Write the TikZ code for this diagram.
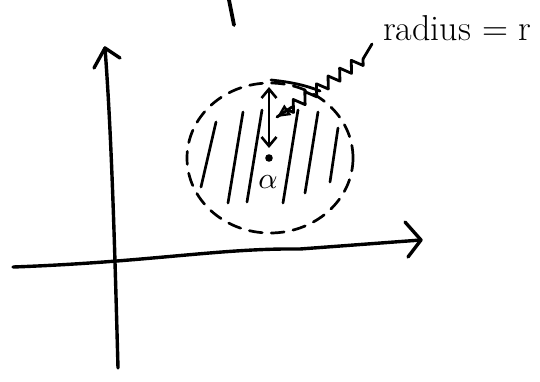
\documentclass[tikz,border=0pt]{standalone}
\usetikzlibrary{arrows.meta,decorations.pathmorphing}
\begin{document}
\begin{tikzpicture}[x=1pt,y=-1pt,line cap=round,line join=round,
  ink/.style={line width=2.8pt,black},
  axis/.style={line width=3.4pt,black},
  hatch/.style={line width=2.7pt,black},
  chev/.style={line width=3.4pt,black},
  dashcirc/.style={line width=2.7pt,dash pattern=on 13pt off 9pt},
  lbl/.style={font=\fontsize{36}{38}\selectfont,inner sep=0pt}]
\useasboundingbox (0,0) rectangle (540,381);
% stray stroke at top
\draw[line width=3.8pt] (229,0) -- (234,25);
% coordinates
\coordinate (vb) at (118,368);
\coordinate (vt) at (105,48);
\coordinate (hl) at (13,267);
\coordinate (hr) at (421,240);
% vertical axis
\draw[axis] (vb) .. controls (115,260) and (112,140) .. (vt);
\draw[chev] (94,68) -- (vt) -- (120,58);
% horizontal axis
\draw[axis] (hl) .. controls (150,262) and (220,248) .. (300,249) -- (hr);
\draw[chev] (405,222) -- (hr) -- (408,257);
% dashed circle
\coordinate (c) at (270,158);
\draw[dashcirc] (c) ellipse [x radius=83, y radius=75];
% solid top piece
\draw[ink] (271,80) .. controls (290,82) and (305,85) .. (320,91);
% hatching
\draw[hatch] (201,187) -- (216,122);
\draw[hatch] (228,203) -- (243,112);
\draw[hatch] (247,202) -- (262,110);
\draw[hatch] (283,203) -- (298,110);
\draw[hatch] (305,193) -- (318,112);
\draw[hatch] (330,182) -- (338,128);
% radius double arrow
\coordinate (rt) at (269,87);
\coordinate (rb) at (269,148);
\draw[ink,{Straight Barb[length=9pt,width=15pt,line width=2.6pt]}-{Straight Barb[length=9pt,width=15pt,line width=2.6pt]}] (rt) -- (rb);
% centre dot and label
\fill (269,158) circle (3.8pt);
\node[inner sep=0pt] (alpha) at (268,182) {\scalebox{3}{$\alpha$}};
% label
\node[lbl,anchor=base west] (rad) at (383,40) {radius = r};
\coordinate (zs) at (372,44);
\coordinate (zm) at (363,59);
\coordinate (ze) at (277,117);
\draw[ink] (zs) -- (zm);
\draw[ink,decorate,decoration={zigzag,segment length=14pt,amplitude=5.5pt,post length=10pt}] (zm) -- (ze);
\draw[ink,-{Triangle[open,length=13pt,width=12pt,line width=2.4pt]}] (292,107) -- (ze);
\end{tikzpicture}
\end{document}
